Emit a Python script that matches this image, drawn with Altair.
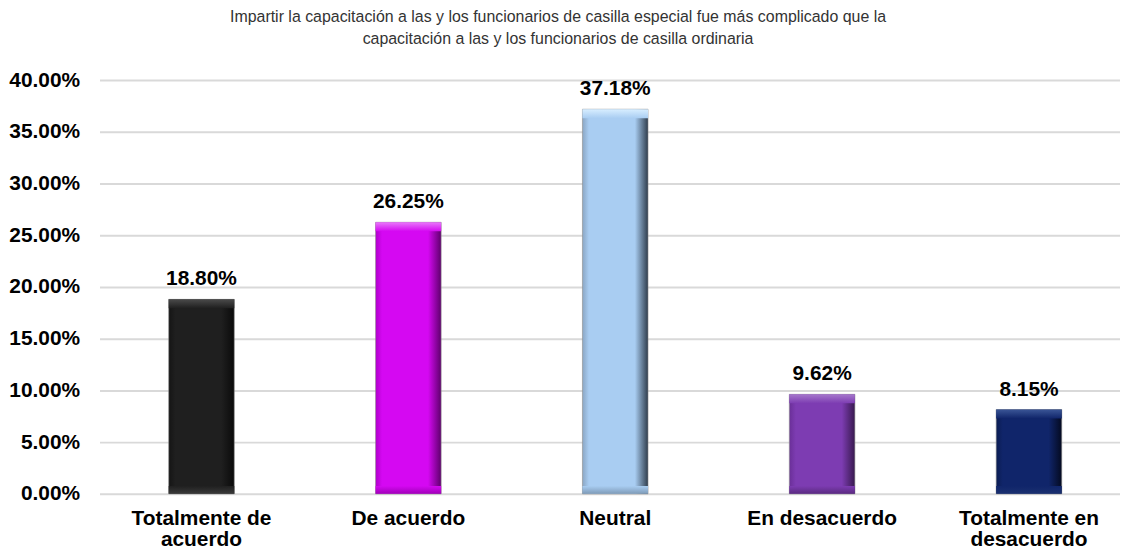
import altair as alt
import pandas as pd

categories = ["Totalmente de acuerdo", "De acuerdo", "Neutral", "En desacuerdo", "Totalmente en desacuerdo"]
values = [0.1880, 0.2625, 0.3718, 0.0962, 0.0815]
y_ticks = [0, 0.05, 0.10, 0.15, 0.20, 0.25, 0.30, 0.35, 0.40]
title_lines = [
    "Impartir la capacitación a las y los funcionarios de casilla especial fue más complicado que la",
    "capacitación a las y los funcionarios de casilla ordinaria",
]

# (left edge, main, right edge, top highlight, bottom shade)
palette = {
    "Totalmente de acuerdo": ("#141414", "#1f1f1f", "#0a0a0a", "#4a4a4a", "#3a3a3a"),
    "De acuerdo": ("#b000cc", "#d508f2", "#5e006c", "#e878fa", "#a000b8"),
    "Neutral": ("#8aa6c4", "#a9cdf2", "#2f3d4d", "#d8eeff", "#7e9bb8"),
    "En desacuerdo": ("#6a2f98", "#7d3cb2", "#38194f", "#a678cc", "#5a2a80"),
    "Totalmente en desacuerdo": ("#0b1c52", "#10256a", "#040a20", "#3a5596", "#1a3070"),
}

df = pd.DataFrame({"cat": categories, "value": values})

FONT = "Liberation Sans"

x_enc = alt.X(
    "cat:N",
    sort=categories,
    scale=alt.Scale(domain=categories, paddingInner=0.683, paddingOuter=0.308, align=0.543),
    axis=alt.Axis(
        title=None,
        labelAngle=0,
        domain=False,
        ticks=False,
        labelPadding=14,
        labelFont=FONT,
        labelFontSize=21,
        labelFontWeight="bold",
        labelColor="#000000",
        labelLineHeight=21,
        labelLimit=300,
        labelExpr="datum.label == 'Totalmente de acuerdo' ? ['Totalmente de', 'acuerdo'] : datum.label == 'Totalmente en desacuerdo' ? ['Totalmente en', 'desacuerdo'] : datum.label",
    ),
)

y_scale = alt.Scale(domain=[0, 0.4], nice=False)

base = alt.Chart(df)

grid = base.mark_bar(opacity=0).encode(
    x=x_enc,
    y=alt.Y(
        "value:Q",
        scale=y_scale,
        axis=alt.Axis(
            title=None,
            values=y_ticks,
            format=".2%",
            domain=False,
            ticks=False,
            labelPadding=20,
            labelFont=FONT,
            labelFontSize=21,
            labelFontWeight="bold",
            labelColor="#000000",
            gridColor="#d9d9d9",
            gridWidth=2,
        ),
    ),
)

layers = [grid]
for c in categories:
    le, main, re, top, bot = palette[c]
    sub = base.transform_filter(alt.datum.cat == c)
    body = sub.mark_bar(
        fill={
            "gradient": "linear",
            "x1": 0, "x2": 1, "y1": 0, "y2": 0,
            "stops": [
                {"offset": 0, "color": le},
                {"offset": 0.1, "color": main},
                {"offset": 0.8, "color": main},
                {"offset": 1, "color": re},
            ],
        },
        stroke="#8c8c8c",
        strokeWidth=0.6,
    ).encode(x=x_enc, y=alt.Y("value:Q", scale=y_scale))
    topstrip = sub.mark_bar(
        y2Offset=9,
        fill={
            "gradient": "linear",
            "x1": 0, "x2": 0, "y1": 0, "y2": 1,
            "stops": [
                {"offset": 0, "color": top},
                {"offset": 1, "color": main},
            ],
        },
    ).encode(x=x_enc, y=alt.Y("value:Q", scale=y_scale), y2="value:Q")
    botstrip = sub.mark_bar(
        yOffset=-8,
        fill={
            "gradient": "linear",
            "x1": 0, "x2": 0, "y1": 0, "y2": 1,
            "stops": [
                {"offset": 0, "color": main},
                {"offset": 1, "color": bot},
            ],
        },
    ).encode(x=x_enc, y=alt.datum(0, scale=y_scale), y2=alt.datum(0))
    layers += [body, topstrip, botstrip]

labels = base.mark_text(
    dy=-14,
    baseline="alphabetic",
    font=FONT,
    fontSize=21,
    fontWeight="bold",
    color="#000000",
).encode(
    x=x_enc,
    y=alt.Y("value:Q", scale=y_scale),
    text=alt.Text("value:Q", format=".2%"),
)
layers.append(labels)

chart = alt.layer(*layers).properties(
    width=1026,
    height=416,
    padding={"left": 92, "top": 71, "right": 0, "bottom": 56},
    autosize=alt.AutoSizeParams(type="none"),
    title=alt.TitleParams(
        text=title_lines,
        font=FONT,
        fontSize=16,
        fontWeight="normal",
        color="#333333",
        anchor="middle",
        dx=-52,
        offset=22,
        lineHeight=22,
    ),
).configure_view(stroke=None)

chart.save("out.html", embed_options={"renderer": "svg", "actions": False})
